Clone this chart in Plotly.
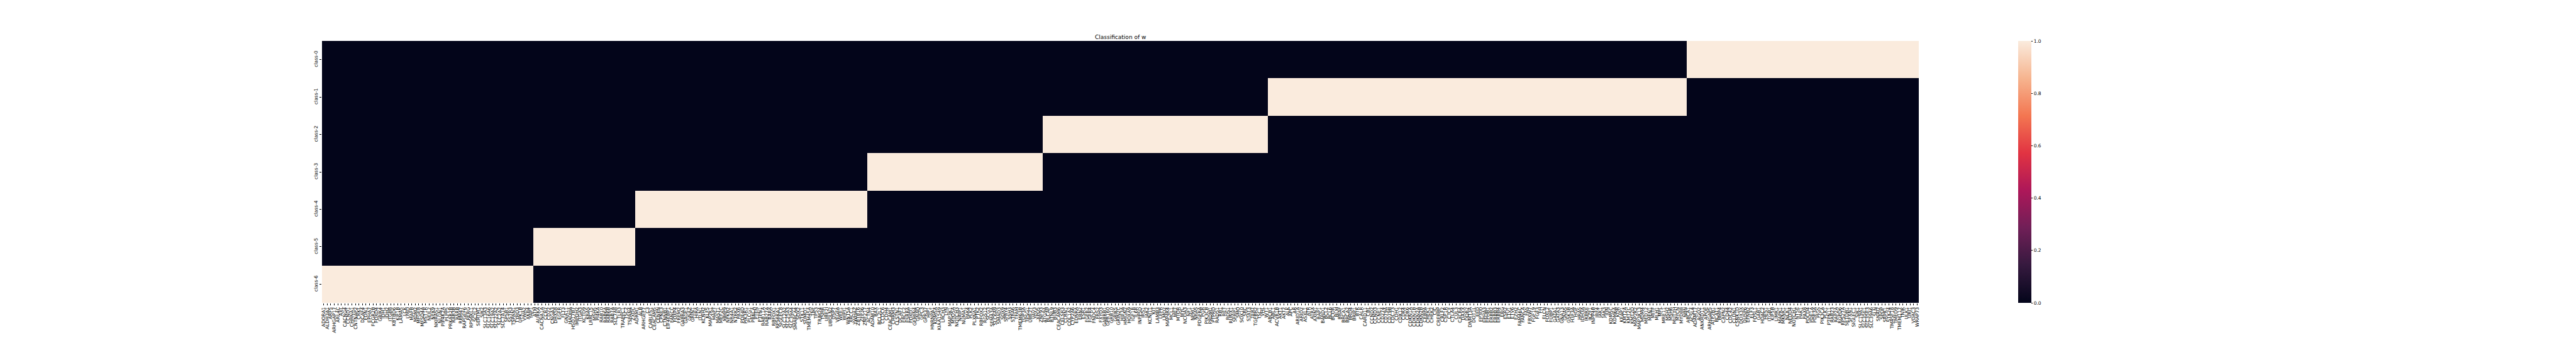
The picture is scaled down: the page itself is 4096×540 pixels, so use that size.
import plotly.graph_objects as go

# ---------------- data ----------------
class_names = ["class-0", "class-1", "class-2", "class-3", "class-4", "class-5", "class-6"]

genes_class6 = ["ADORA1", "ALDH3A1", "ARF5", "ARHGAP17", "ARL4C", "AXL", "CACNG4", "CCND1", "CHRNA1", "CNTNAP2",
                "CRKL", "DCAF4", "EDN1", "EPHA7", "FCGR2B", "FOXD4", "GRIK4", "IDH1", "IDH2", "ITGB8",
                "KBTBD6", "KIF1B", "LAMA5", "LCK", "LY6D", "MAFB", "MDM2", "MFGE8", "MFSD4A", "MST1R",
                "NEIL2", "NEK9", "NKIRAS1", "NLGN1", "PIP4K2A", "PLPP5", "PRKAR2B", "RAB3B", "RARB", "RBM47",
                "RAPGEF6", "RERG", "RPS6KL1", "SCYL2", "SERTM1", "SIK2", "SLC13A3", "SLC16A6", "SLC19A2", "SLC22A2",
                "SLC2A2", "SLC7A14", "SPSB1", "SSTR3", "TSPAN1", "TYRO3", "UPK1B", "VWA2", "XKR4", "YAP1"]

genes_class5 = ["ATM", "AURKA", "CACNA1A", "CCR7", "CD22", "CNGA3", "DHX58", "EGFR", "FLT3", "GNA11",
                "HADHA", "HSD17B7", "IMPDH2", "ITGA3", "KCTD9", "KRAS", "LRRC15", "MSH5", "PI4KA", "RAB10",
                "RAB6A", "RAB6B", "RAB7A", "SLC7A8", "TLR3", "TRAPPC1", "TSC2", "TSPAN4", "ZXDC"]

genes_class4 = ["ADRM1", "ALB", "ARHGEF7", "C3", "CABLES1", "CEACAM5", "CENPN", "CPNE3", "CTNNB1", "EIF4EBP1",
                "FANCC", "FOXP4", "FREM2", "GABRA3", "GAGE1", "GNAZ", "GRIN1", "HIRA", "ITLN1", "KCNH2",
                "KLF5", "MAP2K1", "MAPT", "MAST1", "MEF2C", "MMP9", "NFKB2", "NR4A1", "NTRK2", "PAX6",
                "PDE4D", "PIK3R1", "PLCG1", "PRKCA", "PTEN", "PTPN1", "RAB11A", "RAB27A", "RARA", "RBFOX1",
                "RPS6KA1", "SIGLEC8", "SLC12A2", "SLC25A3", "SLC39A4", "SMARCA4", "SOX2", "STK11", "SUMO1", "TMEM45A",
                "TNF", "TP53", "TRIM24", "TSHR", "UBE2I", "UBQLN2", "USP7", "VEGFA", "WEE1", "WIPI1",
                "WNT5A", "XRCC1", "YWHAZ", "ZBTB16", "ZFP36", "ZNF217"]

genes_class3 = ["ACTN4", "ADAM10", "BAX", "BCL2L1", "CCDC6", "CDH4", "CEACAM1", "CHRM3", "CLSTN1", "DCAF7",
                "ERCC2", "ESRRA", "FOXD1", "GEMIN4", "GNAQ", "GPC3", "GPR37", "HIP1", "HNRNPA1", "KDM5A",
                "KIAA1549", "LRCH3", "LYN", "MAP3K1", "MYO5A", "NOTCH3", "NRIP1", "NUMA1", "PAK4", "PLK2",
                "PLXNA1", "PTK2", "RBFOX2", "RGS12", "SCG3", "SEMA3A", "SLC6A9", "SMAD3", "SOX9", "SPRY4",
                "SSH3", "STRA6", "TFAM", "TMEM63B", "TOP3A", "TPSG1", "UBE2T", "VAV3", "XPO5", "ZNF93"]

genes_class2 = ["ATG9A", "BLCAP", "BTNL9", "BUB3", "CEACAM6", "CELSR3", "CLRN1", "COL1A2", "CYP2A6", "EDNRA",
                "ERN2", "ESR1", "FGFR2", "FGFR4", "FNDC4", "FRS2", "FXYD3", "GABRB1", "GPR160", "GRB10",
                "GRIK5", "GRIN2C", "HIF3A", "HMGN2", "HOXA9", "IGF1R", "IL6R", "INPP5D", "IRS1", "JAK2",
                "KCNJ11", "KIT", "LAMB3", "LEPR", "LMO2", "MAP4K4", "MCL1", "MET", "MTOR", "MYC",
                "NCOA3", "NF1", "NPM1", "NRAS", "PDGFRA", "PGR", "PIK3CB", "PRDM1", "PTPRD", "RAD51",
                "RB1", "RET", "ROS1", "RUNX1", "SFRP1", "SMO", "SOX10", "SRC", "STAT3", "TERT",
                "TGFBR2", "TSC1", "VHL", "WT1"]

genes_class1 = ["ABCB1", "ABL1", "ACVR1B", "AKT1", "AKT2", "ALK", "APC", "AR", "ARID1A", "ARID2",
                "ASXL1", "ATR", "ATRX", "AXIN1", "BAP1", "BARD1", "BCL2", "BCL6", "BCOR", "BLM",
                "BRAF", "BRCA1", "BRCA2", "BRD4", "BRIP1", "BTK", "CALR", "CARD11", "CBL", "CCND2",
                "CCND3", "CCNE1", "CD274", "CD79A", "CD79B", "CDC73", "CDH1", "CDK12", "CDK4", "CDK6",
                "CDKN1A", "CDKN1B", "CDKN2A", "CDKN2B", "CEBPA", "CHEK1", "CHEK2", "CIC", "CREBBP", "CRLF2",
                "CSF1R", "CTCF", "CTLA4", "CUL3", "CXCR4", "DAXX", "DDR2", "DNMT3A", "DOT1L", "EED",
                "EP300", "EPHA3", "EPHB1", "ERBB2", "ERBB3", "ERBB4", "ERG", "ESR2", "ETV1", "ETV6",
                "EZH2", "FAM46C", "FANCA", "FAS", "FBXW7", "FGF19", "FGF3", "FH", "FLCN", "FOXL2",
                "FUBP1", "GATA1", "GATA3", "GNA13", "GNAS", "GSK3B", "H3F3A", "HGF", "HRAS", "IDH3A",
                "IKBKE", "IKZF1", "INPP4B", "IRF4", "JAK1", "JAK3", "JUN", "KDM5C", "KDM6A", "KDR",
                "KEAP1", "KMT2A", "KMT2C", "KMT2D", "MAP2K2", "MAP3K13", "MDM4", "MED12", "MEN1", "MITF",
                "MLH1", "MPL", "MRE11", "MSH2", "MSH6", "MUTYH", "MYCN", "MYD88", "NBN"]

genes_class0 = ["ABCA1", "ACSL4", "ADAM17", "AGO2", "ANKRD11", "APOE", "ARHGAP5", "ATP2B1", "BCAT1", "BMP4",
                "CAPN2", "CD44", "CDC42", "CLDN1", "CSNK1D", "DDX3X", "DUSP6", "EFNB2", "ELF3", "FOSL1",
                "GAB1", "HDAC2", "HES1", "ITGB1", "KIF5B", "LIMK1", "MAPK1", "MKNK1", "NCK1", "NEDD4",
                "NOTCH1", "NT5E", "PAK1", "PAX8", "PDCD4", "PDE1A",
                "PDE3A", "PIGS", "PIK3CA", "PLK1", "PTPN11", "RAB23", "RAP2A", "RGPD6", "RPS27A", "SETDB1",
                "SFXN1", "SIGLEC1", "SIK1", "SLC19A1", "SLC35E1", "SLC35E3", "SLC39A6", "SLN", "SNAI2", "SPOP",
                "SRPK1", "STK24", "TM4SF18", "TMED9", "TMEM117", "TNIK", "ULK1", "URI1", "VDAC3", "WRAP73"]

# column order on the x axis (left to right) and the class each gene belongs to
blocks = [("class-6", genes_class6), ("class-5", genes_class5), ("class-4", genes_class4),
          ("class-3", genes_class3), ("class-2", genes_class2), ("class-1", genes_class1),
          ("class-0", genes_class0)]

gene_labels = []
gene_class = []
for cname, glist in blocks:
    gene_labels += glist
    gene_class += [cname] * len(glist)

n_cols = len(gene_labels)
z = [[1.0 if gene_class[j] == cname else 0.0 for j in range(n_cols)] for cname in class_names]

colorbar_ticks = [0.0, 0.2, 0.4, 0.6, 0.8, 1.0]

# ---------------- styling ----------------
S = 0.54
W, H = 4096, 540
plot_l, plot_r = 948.8 * S, 5650 * S
plot_t, plot_b = 120 * S, 890 * S
cb_left = 5943 * S
cb_thick = 39 * S

rocket = [
    [0.0, "#03051A"],
    [1 / 7, "#35193E"],
    [2 / 7, "#701F57"],
    [3 / 7, "#AD1759"],
    [4 / 7, "#E13342"],
    [5 / 7, "#F37651"],
    [6 / 7, "#F6B48F"],
    [1.0, "#FAEBDD"],
]

FONT = "DejaVu Sans"
tick_fs = 13.9 * S
tick_len = 3.5 * 1.39 * S

fig = go.Figure(
    go.Heatmap(
        z=z,
        x=list(range(n_cols)),
        y=list(range(len(class_names))),
        zmin=0, zmax=1,
        colorscale=rocket,
        xgap=0, ygap=0,
        colorbar=dict(
            x=(cb_left - plot_l) / (plot_r - plot_l),
            xanchor="left",
            xpad=0,
            ypad=0,
            y=0.5, yanchor="middle",
            len=1.0, lenmode="fraction",
            thickness=cb_thick, thicknessmode="pixels",
            outlinewidth=0,
            tickvals=colorbar_ticks,
            ticktext=[f"{v:.1f}" for v in colorbar_ticks],
            ticks="outside", ticklen=tick_len, tickwidth=1, tickcolor="black",
            tickfont=dict(family=FONT, size=tick_fs, color="black"),
        ),
        hoverinfo="skip",
    )
)

fig.update_layout(
    width=W, height=H,
    margin=dict(l=plot_l, r=W - plot_r, t=plot_t, b=H - plot_b, pad=0),
    paper_bgcolor="white",
    plot_bgcolor="white",
    font=dict(family=FONT, color="black"),
    title=dict(
        text="Classification of w",
        x=(plot_l + plot_r) / 2 / W, xanchor="center",
        y=1 - (plot_t - 6 * S) / H, yanchor="bottom",
        yref="container", xref="container",
        font=dict(family=FONT, size=16.7 * S, color="black"),
    ),
    xaxis=dict(
        range=[-0.5, n_cols - 0.5],
        tickmode="array",
        tickvals=list(range(n_cols)),
        ticktext=gene_labels,
        tickangle=-90,
        ticks="outside", ticklen=tick_len, tickwidth=1, tickcolor="black",
        tickfont=dict(family=FONT, size=tick_fs, color="black"),
        showgrid=False, zeroline=False, showline=False,
        fixedrange=True,
    ),
    yaxis=dict(
        range=[len(class_names) - 0.5, -0.5],
        tickmode="array",
        tickvals=list(range(len(class_names))),
        ticktext=class_names,
        tickangle=-90,
        ticks="outside", ticklen=tick_len, tickwidth=1, tickcolor="black",
        tickfont=dict(family=FONT, size=tick_fs, color="black"),
        showgrid=False, zeroline=False, showline=False,
        fixedrange=True,
    ),
)

fig.write_html(
    "out.html",
    config={"displayModeBar": False},
    post_script="document.body.style.margin='0';document.body.style.overflow='hidden';",
)
